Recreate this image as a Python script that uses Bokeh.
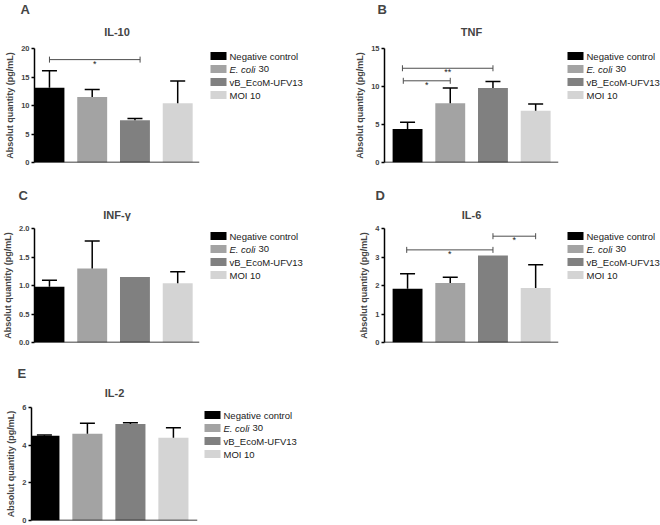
from bokeh.plotting import figure
from bokeh.layouts import row, column
from bokeh.models import (ColumnDataSource, Whisker, TeeHead, Span, Title,
                          FixedTicker, PrintfTickFormatter, Range1d)
from bokeh.core.properties import value, field
from bokeh.embed import file_html
from bokeh.resources import INLINE

FONT = "Liberation Sans"

# groups / legend
groups = ["Negative control", "E. coli 30", "vB_EcoM-UFV13", "MOI 10"]
legend_main = ["Negative control", "E. coli", "vB_EcoM-UFV13", "MOI 10"]
legend_rest = ["", "30", "", ""]
legend_style = ["normal", "italic", "normal", "normal"]
colors = ["#000000", "#a3a3a3", "#808080", "#d4d4d4"]

# A - IL-10
il10_mean = [13.1, 11.5, 7.4, 10.4]
il10_sd = [3.0, 1.3, 0.3, 3.9]
il10_ticks = [0, 5, 10, 15, 20]
il10_sig_from = [1.0]
il10_sig_to = [3.12]
il10_sig_y = [18.05]
il10_sig_text = ["*"]

# B - TNF
tnf_mean = [4.4, 7.8, 9.8, 6.8]
tnf_sd = [0.9, 2.0, 0.85, 0.9]
tnf_ticks = [0, 5, 10, 15]
tnf_sig_from = [0.88, 0.9]
tnf_sig_to = [3.0, 2.0]
tnf_sig_y = [12.4, 10.75]
tnf_sig_text = ["**", "*"]

# C - INF-gamma
infg_mean = [0.98, 1.30, 1.15, 1.04]
infg_sd = [0.11, 0.48, 0.0, 0.20]
infg_ticks = [0, 0.5, 1.0, 1.5, 2.0]

# D - IL-6
il6_mean = [1.89, 2.09, 3.05, 1.91]
il6_sd = [0.52, 0.20, 0.0, 0.82]
il6_ticks = [0, 1, 2, 3, 4]
il6_sig_from = [0.98, 3.0]
il6_sig_to = [3.0, 4.0]
il6_sig_y = [3.25, 3.73]
il6_sig_text = ["*", "*"]

# E - IL-2
il2_mean = [4.5, 4.6, 5.12, 4.39]
il2_sd = [0.04, 0.56, 0.07, 0.53]
il2_ticks = [0, 2, 4, 6]

# row geometry: height, border top, border bottom, title standoff, letter align
ROW1 = (178, 48, 16, 15.7, "top")
ROW2 = (178, 50, 14, 12, "bottom")
ROW3 = (168, 51, 4, 13, "bottom")


def bar_panel(letter, name, mean, sd, ticks, fmt, sig, geom, left, right, width, xr, letter_dx):
    h, top, bottom, title_standoff, letter_align = geom
    p = figure(width=width, height=h, x_range=xr, y_range=(0, ticks[-1]),
               output_backend="svg", toolbar_location=None, title_location=None,
               min_border_left=left, min_border_right=right,
               min_border_top=top, min_border_bottom=bottom)
    p.outline_line_color = None
    p.grid.visible = False
    p.xaxis.visible = False

    xs = list(range(1, len(groups) + 1))
    src = ColumnDataSource(dict(x=xs, top=mean, color=colors))
    p.vbar(x="x", top="top", width=0.7, fill_color="color", line_color=None, source=src)

    # error bars (upper only), skip groups without a visible error
    ex = [x for x, s in zip(xs, sd) if s > 0]
    em = [m for m, s in zip(mean, sd) if s > 0]
    eu = [m + s for m, s in zip(mean, sd) if s > 0]
    esrc = ColumnDataSource(dict(x=ex, lower=em, upper=eu))
    p.add_layout(Whisker(source=esrc, base="x", lower="lower", upper="upper",
                         line_color="black", line_width=1.5, level="annotation",
                         upper_head=TeeHead(size=15, line_width=1.5, line_color="black"),
                         lower_head=None))

    p.add_layout(Span(location=0, dimension="width", line_color="black", line_width=1.5))

    if sig is not None:
        x0, x1, y, txt = sig
        ssrc = ColumnDataSource(dict(x0=x0, x1=x1, y=y, txt=txt,
                                     xm=[(a + b) / 2 for a, b in zip(x0, x1)]))
        p.add_layout(Whisker(source=ssrc, dimension="width", base="y", lower="x0", upper="x1",
                             line_color="#4d4d4d", line_width=1, level="annotation",
                             upper_head=TeeHead(size=6, line_width=1, line_color="#4d4d4d"),
                             lower_head=TeeHead(size=6, line_width=1, line_color="#4d4d4d")))
        p.text(x="xm", y="y", text="txt", source=ssrc, text_align="center",
               text_baseline="alphabetic", y_offset=4, text_font=value(FONT),
               text_font_size="9px", text_color="#222222")

    ax = p.yaxis[0]
    ax.ticker = FixedTicker(ticks=ticks)
    ax.formatter = PrintfTickFormatter(format=fmt)
    ax.axis_label = "Absolut quantity (pg/mL)"
    ax.axis_label_text_font = FONT
    ax.axis_label_text_font_size = "9px"
    ax.axis_label_text_font_style = "bold"
    ax.axis_label_standoff = 3
    ax.major_label_text_font = FONT
    ax.major_label_text_font_size = "7.5px"
    ax.major_label_text_font_style = "bold"
    ax.major_label_standoff = 2
    ax.axis_line_width = 1.5
    ax.major_tick_line_width = 1.5
    ax.major_tick_in = 0
    ax.major_tick_out = 3
    ax.minor_tick_line_color = None

    p.add_layout(Title(text=name, align="center", vertical_align="top", standoff=title_standoff,
                       text_font=FONT, text_font_size="11px", text_font_style="bold"), "above")
    p.add_layout(Title(text=letter, align="left", offset=letter_dx, vertical_align=letter_align,
                       standoff=0, text_font=FONT, text_font_size="13px",
                       text_font_style="bold"), "above")
    return p


def legend_panel(width, geom, sw_x):
    h, top, bottom, _, _ = geom
    frame_h = h - top - bottom
    first, pitch = 7.5, 13
    lg = figure(width=width, height=h, x_range=Range1d(0, width),
                y_range=Range1d((frame_h - first) / pitch, -first / pitch),
                output_backend="svg", toolbar_location=None, title_location=None,
                min_border_left=0, min_border_right=0,
                min_border_top=top, min_border_bottom=bottom)
    lg.axis.visible = False
    lg.grid.visible = False
    lg.outline_line_color = None
    src = ColumnDataSource(dict(y=list(range(len(groups))), color=colors,
                                main=legend_main, rest=legend_rest, style=legend_style))
    lg.rect(x=sw_x + 8, y="y", width=16, height=8, width_units="screen", height_units="screen",
            fill_color="color", line_color=None, source=src)
    lg.text(x=sw_x + 19, y="y", text="main", source=src, text_font=value(FONT),
            text_font_size="9.5px", text_font_style=field("style"), text_baseline="middle",
            text_color="#1a1a1a")
    lg.text(x=sw_x + 19 + 29, y="y", text="rest", source=src, text_font=value(FONT),
            text_font_size="9.5px", text_baseline="middle", text_color="#1a1a1a")
    return lg


pA = bar_panel("A", "IL-10", il10_mean, il10_sd, il10_ticks, "%d",
               (il10_sig_from, il10_sig_to, il10_sig_y, il10_sig_text),
               ROW1, 34, 5, 204, (0.65, 4.51), -14)
lA = legend_panel(126, ROW1, 6)
pB = bar_panel("B", "TNF", tnf_mean, tnf_sd, tnf_ticks, "%d",
               (tnf_sig_from, tnf_sig_to, tnf_sig_y, tnf_sig_text),
               ROW1, 54, 3, 231, (0.46, 4.535), -7)
lB = legend_panel(99, ROW1, 6)

pC = bar_panel("C", "INF-γ", infg_mean, infg_sd, infg_ticks, "%.1f", None,
               ROW2, 34, 5, 204, (0.65, 4.51), -16)
lC = legend_panel(126, ROW2, 6)
pD = bar_panel("D", "IL-6", il6_mean, il6_sd, il6_ticks, "%d",
               (il6_sig_from, il6_sig_to, il6_sig_y, il6_sig_text),
               ROW2, 54, 3, 231, (0.46, 4.535), -9)
lD = legend_panel(99, ROW2, 6)

pE = bar_panel("E", "IL-2", il2_mean, il2_sd, il2_ticks, "%d", None,
               ROW3, 31, 5, 202, (0.70, 4.56), -14)
lE = legend_panel(128, ROW3, 2)

layout = column(row(pA, lA, pB, lB), row(pC, lC, pD, lD), row(pE, lE))

open("out.html", "w").write(file_html(layout, INLINE))
